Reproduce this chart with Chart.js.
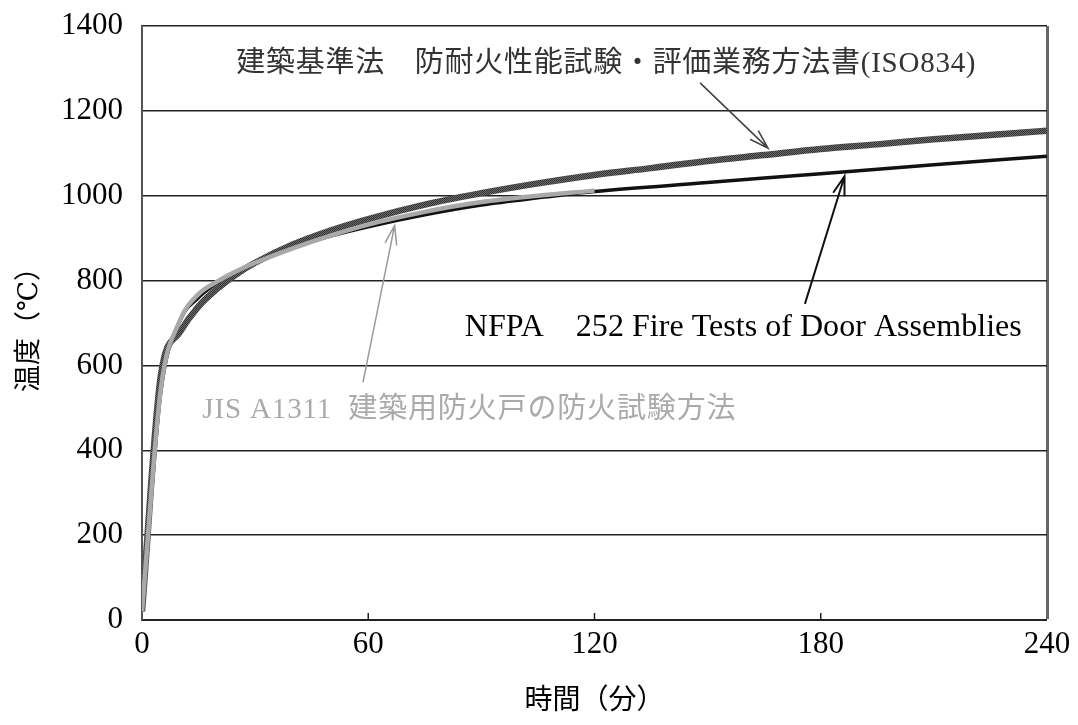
<!DOCTYPE html>
<html>
<head>
<meta charset="utf-8">
<script src="https://cdn.jsdelivr.net/npm/chart.js@4.4.1/dist/chart.umd.min.js"></script>
<style>
  html, body { margin: 0; padding: 0; background: #fff; }
  #wrap { width: 1078px; height: 725px; }
</style>
</head>
<body>
<div id="wrap"><canvas id="fireChart" width="1078" height="725"></canvas></div>
<script>
// 加熱曲線 (分, ℃) - 図から読み取り
const isoTime  = [0, 5, 10, 15, 20, 25, 30, 40, 50, 60, 75, 90, 105, 120, 135, 150, 165, 180, 195, 210, 225, 240];
const isoTemp  = [20, 576, 678, 739, 781, 815, 842, 885, 918, 945, 979, 1006, 1029, 1049, 1065, 1082, 1096, 1110, 1121, 1133, 1143, 1153];

const nfpaTime = [0, 5, 10, 15, 20, 25, 30, 40, 50, 60, 75, 90, 105, 120, 150, 180, 210, 240];
const nfpaTemp = [20, 538, 704, 760, 795, 821, 843, 878, 905, 927, 955, 978, 995, 1010, 1031, 1052, 1073, 1093];

const jisTime  = [0, 5, 10, 15, 20, 25, 30, 40, 50, 60, 75, 90, 105, 120];
const jisTemp  = [20, 545, 705, 768, 798, 822, 842, 876, 906, 932, 962, 985, 1000, 1012];

const xTicks = [0, 60, 120, 180, 240];
const yTicks = [0, 200, 400, 600, 800, 1000, 1200, 1400];

// 注記: 文字の位置と矢印 (データ座標)
const notes = [
  { text: '建築基準法　防耐火性能試験・評価業務方法書(ISO834)', x: 25, y: 1310, width: 740, size: 29, color: '#333',
    tail: [148, 1266], head: [166, 1112], arrowColor: '#444', arrowWidth: 1.6 },
  { text: 'NFPA　252 Fire Tests of Door Assemblies', x: 85.6, y: 688, width: 557, size: 32, color: '#000',
    tail: [175.8, 745], head: [186.3, 1046], arrowColor: '#111', arrowWidth: 2 },
  { text: 'JIS A1311  建築用防火戸の防火試験方法', x: 16, y: 495, width: 534, size: 29, color: '#aaa',
    tail: [58.6, 560], head: [67, 930], arrowColor: '#999', arrowWidth: 1.5 }
];

const serif = '"Liberation Serif", "DejaVu Serif", "Noto Sans CJK JP", serif';

function pts(xs, ys) {
  return xs.map((x, i) => ({ x: x, y: ys[i] }));
}

// ISO曲線のざらついた質感
const pat = document.createElement('canvas');
pat.width = 2; pat.height = 2;
const pc = pat.getContext('2d');
pc.fillStyle = '#6a6a6a'; pc.fillRect(0, 0, 2, 2);
pc.fillStyle = '#333'; pc.fillRect(0, 0, 1, 1); pc.fillRect(1, 1, 1, 1);
const isoPattern = document.getElementById('fireChart').getContext('2d').createPattern(pat, 'repeat');

const notePlugin = {
  id: 'notes',
  afterDatasetsDraw(chart) {
    const { ctx, scales: { x, y } } = chart;
    ctx.save();
    // x軸の内向き目盛り
    ctx.strokeStyle = '#222';
    ctx.lineWidth = 1.5;
    [60, 120, 180].forEach(v => {
      const px = x.getPixelForValue(v);
      ctx.beginPath();
      ctx.moveTo(px, y.bottom);
      ctx.lineTo(px, y.bottom - 7);
      ctx.stroke();
    });
    notes.forEach(n => {
      ctx.font = n.size + 'px ' + serif;
      const w = ctx.measureText(n.text).width;
      const chars = [...n.text].length;
      ctx.letterSpacing = ((n.width - w) / chars) + 'px';
      ctx.fillStyle = n.color;
      ctx.textBaseline = 'middle';
      ctx.textAlign = 'left';
      ctx.fillText(n.text, x.getPixelForValue(n.x), y.getPixelForValue(n.y));
      ctx.letterSpacing = '0px';

      const x1 = x.getPixelForValue(n.tail[0]), y1 = y.getPixelForValue(n.tail[1]);
      const x2 = x.getPixelForValue(n.head[0]), y2 = y.getPixelForValue(n.head[1]);
      const ang = Math.atan2(y2 - y1, x2 - x1);
      ctx.strokeStyle = n.arrowColor;
      ctx.lineWidth = n.arrowWidth;
      ctx.beginPath();
      ctx.moveTo(x1, y1);
      ctx.lineTo(x2, y2);
      ctx.moveTo(x2 - 20 * Math.cos(ang - 0.3), y2 - 20 * Math.sin(ang - 0.3));
      ctx.lineTo(x2, y2);
      ctx.lineTo(x2 - 20 * Math.cos(ang + 0.3), y2 - 20 * Math.sin(ang + 0.3));
      ctx.stroke();
    });
    ctx.restore();
  }
};

const ctx = document.getElementById('fireChart').getContext('2d');
const fireChart = new Chart(ctx, {
  type: 'line',
  data: {
    datasets: [
      { label: 'JIS A1311', data: pts(jisTime, jisTemp), borderColor: '#a9a9a9', borderWidth: 4.5,
        pointRadius: 0, fill: false, cubicInterpolationMode: 'monotone' },
      { label: 'ISO834', data: pts(isoTime, isoTemp), borderColor: isoPattern, borderWidth: 6.5,
        pointRadius: 0, fill: false, cubicInterpolationMode: 'monotone' },
      { label: 'NFPA 252', data: pts(nfpaTime, nfpaTemp), borderColor: '#111', borderWidth: 3.5,
        pointRadius: 0, fill: false, cubicInterpolationMode: 'monotone' }
    ]
  },
  options: {
    responsive: false,
    animation: false,
    layout: { padding: { left: 0, right: 31, top: 26, bottom: 0 } },
    plugins: {
      legend: { display: false },
      tooltip: { enabled: false }
    },
    scales: {
      x: {
        type: 'linear',
        min: 0,
        max: 240,
        afterBuildTicks: s => { s.ticks = xTicks.map(v => ({ value: v })); },
        afterFit: s => { s.height = 105; s.paddingLeft = 0; s.paddingRight = 0; },
        grid: {
          drawTicks: false,
          color: c => (c.tick && c.tick.value === 240 ? '#666' : 'rgba(0,0,0,0)'),
          lineWidth: c => (c.tick && c.tick.value === 240 ? 3 : 0)
        },
        border: { display: true, color: '#222', width: 2 },
        ticks: { color: '#000', padding: 6, maxRotation: 0, font: { family: serif, size: 31 },
          callback: v => String(v) },
        title: { display: true, text: '時間（分）', color: '#000', padding: { top: 0, bottom: 7 },
          font: { family: serif, size: 28 } }
      },
      y: {
        min: 0,
        max: 1400,
        afterBuildTicks: s => { s.ticks = yTicks.map(v => ({ value: v })); },
        afterFit: s => { s.width = 142; s.paddingTop = 0; s.paddingBottom = 0; },
        grid: { drawTicks: false, color: '#222', lineWidth: 1.5 },
        border: { display: true, color: '#555', width: 2 },
        ticks: { color: '#000', padding: 19, font: { family: serif, size: 31 },
          callback: v => String(v) },
        title: { display: true, text: '温度（℃）', color: '#000', padding: { top: 14, bottom: 0 },
          font: { family: serif, size: 27 } }
      }
    }
  },
  plugins: [notePlugin]
});
</script>
</body>
</html>
